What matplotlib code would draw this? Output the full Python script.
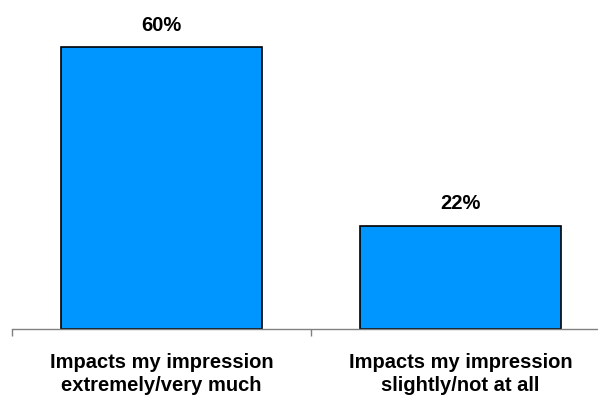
import matplotlib.pyplot as plt

categories = ['Impacts my impression\nextremely/very much',
              'Impacts my impression\nslightly/not at all']
values = [60, 22]
value_labels = ['60%', '22%']

plt.rcParams['font.family'] = ['Liberation Sans', 'DejaVu Sans']

fig = plt.figure(figsize=(5.98, 4.08), dpi=100)
# axis runs from x=12 px past the right edge (third tick sits off-canvas)
ax = fig.add_axes([12 / 598, 79 / 408, 598 / 598, 329 / 408])

x = range(len(categories))
bars = ax.bar(x, values, width=0.67, color='#0096FF', edgecolor='black', linewidth=1.2)

for b, lab in zip(bars, value_labels):
    ax.text(b.get_x() + b.get_width() / 2, b.get_height() + 3.5, lab,
            ha='center', va='baseline', fontsize=14.5, fontweight='bold')

ax.set_xlim(-0.5, 1.5)
ax.set_ylim(0, 70)
ax.set_xticks([-0.5, 0.5, 1.5])
ax.set_xticklabels([])
ax.set_xticks(list(x), minor=True)
ax.set_xticklabels(categories, minor=True, fontsize=14.5, fontweight='bold', linespacing=1.25)
ax.tick_params(axis='x', which='major', length=5, width=1, color='#808080', direction='out')
ax.tick_params(axis='x', which='minor', length=0, pad=17.5)
ax.set_yticks([])
for s in ['top', 'right', 'left']:
    ax.spines[s].set_visible(False)
ax.spines['bottom'].set_color('#808080')
ax.spines['bottom'].set_linewidth(1)

fig.savefig('out.png', dpi=100)
